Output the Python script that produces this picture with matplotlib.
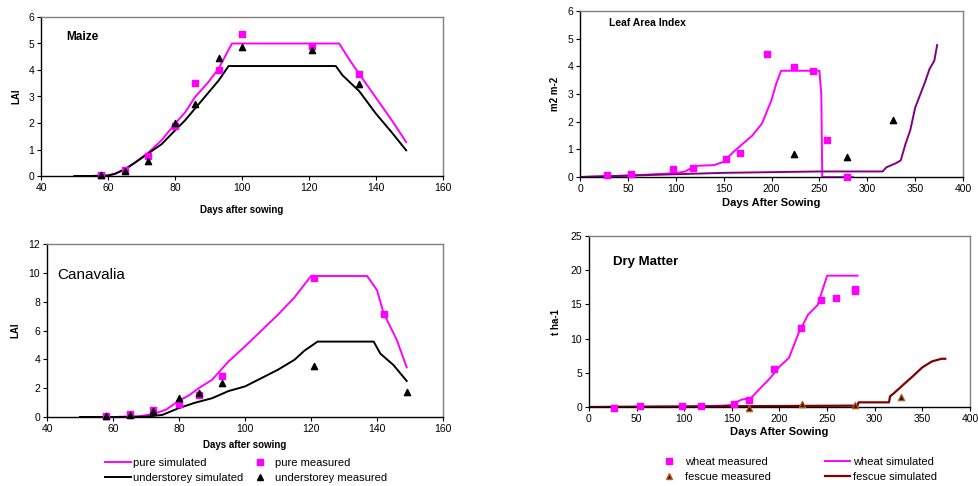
import matplotlib
matplotlib.use("Agg")
import matplotlib.pyplot as plt
from matplotlib.lines import Line2D

plt.rcParams['font.family'] = ['Liberation Sans', 'DejaVu Sans']

# ---------------- Maize ----------------
maize_sim_x = [50, 55, 60, 62, 65, 68, 72, 76, 80, 83, 86, 90, 93, 97, 129, 132, 135, 140, 145, 149]
maize_pure_sim = [0, 0, 0.02, 0.08, 0.25, 0.5, 0.88, 1.35, 1.97, 2.4, 2.98, 3.55, 4.05, 5.0, 5.0, 4.4, 3.85, 2.95, 2.05, 1.28]
maize_under_x = [50, 55, 60, 62, 65, 68, 72, 76, 80, 83, 86, 90, 93, 96, 128, 130, 135, 140, 145, 149]
maize_under_sim = [0, 0, 0.02, 0.08, 0.25, 0.5, 0.85, 1.2, 1.72, 2.1, 2.55, 3.15, 3.6, 4.15, 4.15, 3.8, 3.2, 2.35, 1.6, 0.97]
maize_meas_x = [58, 65, 72, 80, 86, 93, 100, 121, 135]
maize_pure_meas = [0.02, 0.24, 0.75, 1.9, 3.5, 4.0, 5.35, 4.9, 3.84]
maize_under_meas = [0.05, 0.2, 0.55, 2.0, 2.7, 4.47, 4.87, 4.75, 3.48]

# ---------------- Canavalia ----------------
can_pure_x = [50, 60, 68, 72, 76, 80, 83, 86, 90, 95, 100, 105, 110, 115, 120, 137, 140, 142, 146, 149]
can_pure_sim = [0, 0, 0.05, 0.2, 0.5, 1.13, 1.5, 2.0, 2.58, 3.85, 4.9, 6.0, 7.1, 8.3, 9.78, 9.78, 8.8, 7.2, 5.35, 3.44]
can_under_x = [50, 60, 70, 75, 80, 85, 90, 95, 100, 105, 110, 115, 118, 122, 139, 141, 145, 149]
can_under_sim = [0, 0, 0.02, 0.15, 0.62, 1.0, 1.3, 1.8, 2.12, 2.7, 3.28, 3.97, 4.6, 5.23, 5.23, 4.4, 3.6, 2.5]
can_meas_x = [58, 65, 72, 80, 86, 93, 121, 142]
can_pure_meas = [0.1, 0.2, 0.5, 0.92, 1.5, 2.86, 9.62, 7.13]
can_under_x_meas = [58, 65, 72, 80, 86, 93, 121, 149]
can_under_meas = [0.1, 0.15, 0.45, 1.3, 1.66, 2.38, 3.55, 1.7]

# ---------------- Leaf Area Index (wheat / fescue) ----------------
lai_wheat_x = [0, 50, 100, 110, 120, 140, 150, 160, 170, 180, 190, 200, 205, 210, 250, 252, 253, 285]
lai_wheat_sim = [0, 0.05, 0.14, 0.2, 0.4, 0.43, 0.55, 0.9, 1.2, 1.5, 1.93, 2.78, 3.38, 3.84, 3.84, 3.0, 0.0, 0.0]
lai_fescue_x = [0, 50, 100, 150, 250, 316, 320, 330, 335, 340, 345, 350, 360, 365, 370, 373]
lai_fescue_sim = [0, 0.05, 0.1, 0.15, 0.2, 0.2, 0.35, 0.5, 0.6, 1.2, 1.7, 2.5, 3.4, 3.9, 4.2, 4.77]
lai_wheat_meas_x = [28, 53, 97, 118, 152, 167, 195, 224, 243, 258, 279]
lai_wheat_meas = [0.06, 0.1, 0.3, 0.33, 0.66, 0.87, 4.43, 3.98, 3.84, 1.33, 0.0]
lai_fescue_meas_x = [224, 279, 327]
lai_fescue_meas = [0.82, 0.72, 2.05]

# ---------------- Dry Matter ----------------
dm_wheat_x = [0, 100, 140, 150, 160, 170, 180, 190, 200, 210, 220, 230, 240, 250, 282]
dm_wheat_sim = [0, 0.05, 0.2, 0.3, 1.07, 1.3, 2.77, 4.2, 5.9, 7.2, 10.8, 13.5, 14.9, 19.2, 19.2]
dm_fescue_x = [0, 60, 282, 283, 315, 316, 320, 330, 340, 350, 360, 370, 374]
dm_fescue_sim = [0, 0.05, 0.2, 0.68, 0.68, 1.55, 2.0, 3.26, 4.5, 5.8, 6.66, 7.05, 7.05]
dm_wheat_meas_x = [26, 54, 98, 118, 152, 168, 194, 223, 244, 259, 279, 279]
dm_wheat_meas = [-0.1, 0.1, 0.2, 0.2, 0.5, 1.0, 5.55, 11.6, 15.6, 15.9, 17.0, 17.3]
dm_fescue_meas_x = [168, 224, 279, 328]
dm_fescue_meas = [-0.1, 0.5, 0.3, 1.4]

MAG = '#FF00FF'
PUR = '#800080'
DRED = '#800000'

W, H = 979, 486
fig = plt.figure(figsize=(W / 100, H / 100), dpi=100)


def make_ax(l, t, r, b):
    ax = fig.add_axes([l / W, 1 - b / H, (r - l) / W, (b - t) / H])
    ax.spines['top'].set_color('#808080')
    ax.spines['right'].set_color('#808080')
    ax.spines['left'].set_color('black')
    ax.spines['bottom'].set_color('black')
    for s in ax.spines.values():
        s.set_linewidth(1.0)
    ax.tick_params(direction='out', length=3, width=0.8, labelsize=7.5, pad=2, colors='black')
    return ax


lab_kw = dict(fontsize=7, fontweight='bold')

# Maize
ax1 = make_ax(41, 17, 443, 176)
ax1.plot(maize_sim_x, maize_pure_sim, color=MAG, lw=1.4)
ax1.plot(maize_under_x, maize_under_sim, color='black', lw=1.4)
ax1.scatter(maize_meas_x, maize_pure_meas, marker='s', s=18, color=MAG, zorder=3)
ax1.scatter(maize_meas_x, maize_under_meas, marker='^', s=20, color='black', zorder=3)
ax1.set_xlim(40, 160)
ax1.set_ylim(0, 6)
ax1.set_xticks(range(40, 161, 20))
ax1.set_yticks(range(0, 7))
ax1.set_xlabel('Days after sowing', labelpad=9, **lab_kw)
ax1.set_ylabel('LAI', labelpad=5, **lab_kw)
ax1.text(0.062, 0.874, 'Maize', transform=ax1.transAxes, fontsize=8.5, fontweight='bold', va='center')

# Canavalia
ax2 = make_ax(47, 244, 443, 417)
ax2.plot(can_pure_x, can_pure_sim, color=MAG, lw=1.4)
ax2.plot(can_under_x, can_under_sim, color='black', lw=1.4)
ax2.scatter(can_meas_x, can_pure_meas, marker='s', s=18, color=MAG, zorder=3)
ax2.scatter(can_under_x_meas, can_under_meas, marker='^', s=20, color='black', zorder=3)
ax2.set_xlim(40, 160)
ax2.set_ylim(0, 12)
ax2.set_xticks(range(40, 161, 20))
ax2.set_yticks(range(0, 13, 2))
ax2.set_xlabel('Days after sowing', labelpad=4, **lab_kw)
ax2.set_ylabel('LAI', labelpad=6, **lab_kw)
ax2.text(0.025, 0.82, 'Canavalia', transform=ax2.transAxes, fontsize=11, va='center')

# Leaf Area Index
ax3 = make_ax(580, 11, 963, 177)
ax3.plot(lai_wheat_x, lai_wheat_sim, color=MAG, lw=1.4)
ax3.plot(lai_fescue_x, lai_fescue_sim, color=PUR, lw=1.4)
ax3.scatter(lai_wheat_meas_x, lai_wheat_meas, marker='s', s=18, color=MAG, zorder=3)
ax3.scatter(lai_fescue_meas_x, lai_fescue_meas, marker='^', s=20, color='black', zorder=3)
ax3.set_xlim(0, 400)
ax3.set_ylim(0, 6)
ax3.set_xticks(range(0, 401, 50))
ax3.set_yticks(range(0, 7))
ax3.set_xlabel('Days After Sowing', labelpad=3, fontsize=8, fontweight='bold')
ax3.set_ylabel('m2 m-2', labelpad=5, **lab_kw)
ax3.text(0.076, 0.928, 'Leaf Area Index', transform=ax3.transAxes, fontsize=7.5, fontweight='bold', va='center')

# Dry Matter
ax4 = make_ax(589, 236, 970, 407)
ax4.plot(dm_wheat_x, dm_wheat_sim, color=MAG, lw=1.4)
ax4.plot(dm_fescue_x, dm_fescue_sim, color=DRED, lw=1.6)
ax4.scatter(dm_wheat_meas_x, dm_wheat_meas, marker='s', s=18, color=MAG, zorder=3)
ax4.scatter(dm_fescue_meas_x, dm_fescue_meas, marker='^', s=22, facecolor='#3a1a08',
            edgecolor='#c06020', linewidths=0.8, zorder=3)
ax4.set_xlim(0, 400)
ax4.set_ylim(0, 25)
ax4.set_xticks(range(0, 401, 50))
ax4.set_yticks(range(0, 26, 5))
ax4.set_xlabel('Days After Sowing', labelpad=2, fontsize=8, fontweight='bold')
ax4.set_ylabel('t ha-1', labelpad=7, **lab_kw)
ax4.text(0.063, 0.848, 'Dry Matter', transform=ax4.transAxes, fontsize=9.5, fontweight='bold', va='center')
for a in (ax1, ax2, ax3, ax4):
    for c in a.collections:
        c.set_clip_on(False)

# Legends
h_ps = Line2D([], [], color=MAG, lw=1.4)
h_us = Line2D([], [], color='black', lw=1.4)
h_pm = Line2D([], [], color=MAG, marker='s', ls='none', ms=4.5)
h_um = Line2D([], [], color='black', marker='^', ls='none', ms=5)
fig.legend([h_ps, h_us, h_pm, h_um],
           ['pure simulated', 'understorey simulated', 'pure measured', 'understorey measured'],
           ncol=2, loc='center', bbox_to_anchor=(246 / W, 1 - 470.5 / H), frameon=False,
           fontsize=8, handlelength=2.3, handletextpad=0.15, columnspacing=0.4,
           labelspacing=0.5, borderpad=0)

h_wm = Line2D([], [], color=MAG, marker='s', ls='none', ms=4.5)
h_fm = Line2D([], [], marker='^', ls='none', ms=5, markerfacecolor='#3a1a08', markeredgecolor='#c06020')
h_ws = Line2D([], [], color=MAG, lw=1.4)
h_fs = Line2D([], [], color=DRED, lw=1.6)
fig.legend([h_wm, h_fm, h_ws, h_fs],
           ['wheat measured', 'fescue measured', 'wheat simulated', 'fescue simulated'],
           ncol=2, loc='center', bbox_to_anchor=(797 / W, 1 - 469 / H), frameon=False,
           fontsize=8, handlelength=2.3, handletextpad=0.3, columnspacing=4.8,
           labelspacing=0.45, borderpad=0)

fig.savefig('out.png', dpi=100)
